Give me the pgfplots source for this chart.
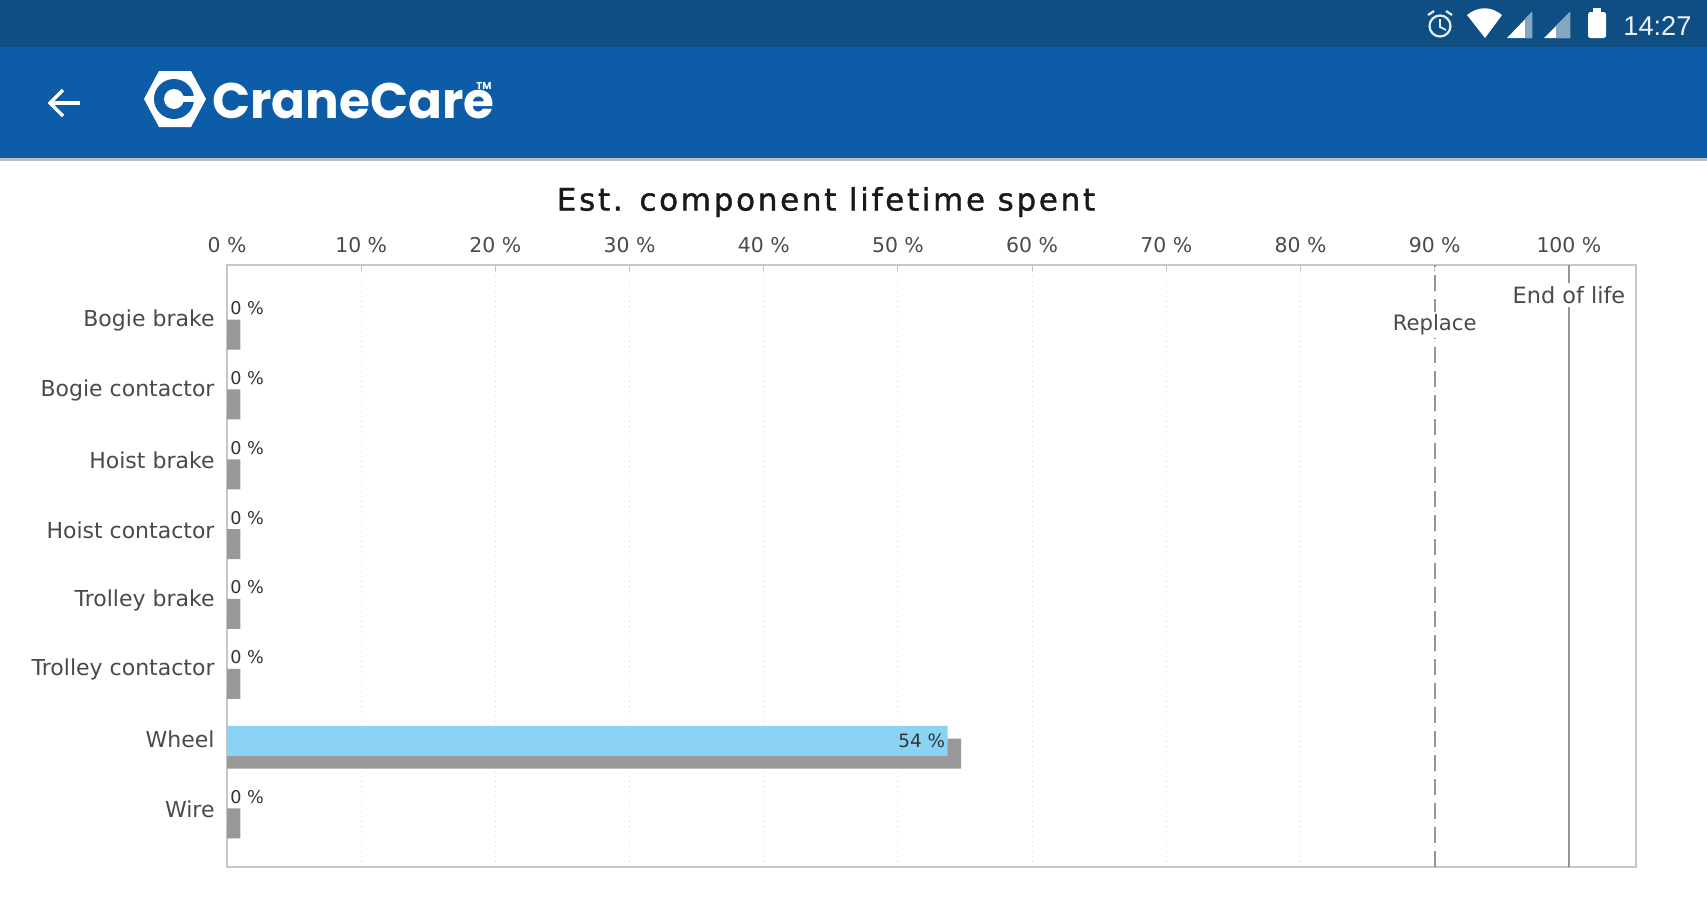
\documentclass[border=0pt]{standalone}
\usepackage{pgfplots}
\pgfplotsset{compat=1.18}
\usepackage{fontspec}
\setmainfont{DejaVu Sans}
\newfontfamily\titlefont[LetterSpace=8.7,FakeBold=1.2]{DejaVu Sans}
\newfontfamily\logofont{Poppins}
\newfontfamily\statusfont{Liberation Sans}
\definecolor{statusblue}{HTML}{0E4E82}
\definecolor{barblue}{HTML}{0D5CA8}
\definecolor{skyb}{HTML}{8BD3F5}
\definecolor{shadowg}{HTML}{999999}
\definecolor{txt}{HTML}{4A4A4A}
\begin{document}
\begin{tikzpicture}
\begin{scope}[x=0.5pt,y=-0.5pt]
\path[use as bounding box] (0,0) rectangle (1707,900);
\fill[white] (0,0) rectangle (1707,900);
\fill[black!25] (0,157) rectangle (1707,161);
\fill[barblue] (0,47) rectangle (1707,158);
\fill[statusblue] (0,0) rectangle (1707,47);
% back arrow
\draw[white,line width=1.6pt] (50,103) -- (80,103);
\draw[white,line width=1.6pt] (63,90) -- (50,103) -- (63,116);
% logo hexagon
\fill[white] (144,99) -- (159,71) -- (191,71) -- (206,99) -- (191,127) -- (159,127) -- cycle;
\fill[barblue] (174,99) circle (20);
\fill[white] (174,99) circle (10);
\fill[white] (174,96) rectangle (197,102);
\node[anchor=west,inner sep=0pt,text=white,font=\logofont\bfseries\fontsize{25}{25}\selectfont] at (212,101) {CraneCare};
\node[anchor=west,inner sep=0pt,text=white,font=\logofont\bfseries\fontsize{5}{5}\selectfont] at (476,86) {TM};
% status bar
\draw[white!90!statusblue,line width=1.1pt] (1440,26) circle (10.5);
\draw[white!90!statusblue,line width=0.9pt] (1440,19) -- (1440,27) -- (1446,30);
\draw[white!90!statusblue,line width=1.1pt] (1428,15) -- (1434,11) (1452,15) -- (1446,11);
\fill[white] (1467,15) .. controls (1478,6) and (1491,6) .. (1502,15) -- (1485,38) -- cycle;
\fill[white] (1507,38) -- (1532,12) -- (1532,38) -- cycle;
\fill[white!50!statusblue] (1525,38) -- (1525,19) -- (1532,12) -- (1532,38) -- cycle;
\fill[white] (1544,38) -- (1570,12) -- (1570,38) -- cycle;
\fill[white!50!statusblue] (1556,38) -- (1556,26) -- (1570,12) -- (1570,38) -- cycle;
\fill[white,rounded corners=1.2pt] (1588,12) rectangle (1606,38);
\fill[white] (1593,8) rectangle (1601,13);
\node[anchor=west,inner sep=0pt,text=white!92!statusblue,font=\statusfont\fontsize{13.6}{13.6}\selectfont] at (1623,26) {14:27};
% title
\node[inner sep=0pt,text=black!90,font=\titlefont\fontsize{15.5}{15.5}\selectfont] at (826,202) {Est. component lifetime spent};
\end{scope}
\begin{axis}[
  at={(113.5pt,-433.5pt)},anchor=south west,
  scale only axis,width=704.5pt,height=301pt,
  xmin=0,xmax=105,ymin=-0.83,ymax=7.79,
  axis line style={draw=black!22,line width=0.7pt},
  xtick={0,10,...,100},
  xticklabels={0 \%,10 \%,20 \%,30 \%,40 \%,50 \%,60 \%,70 \%,80 \%,90 \%,100 \%},
  xticklabel pos=upper,
  xtick pos=upper,
  tick style={draw=black!25,line width=0.5pt},
  major tick length=3pt,
  tick align=inside,
  xmajorgrids,
  grid style={draw=black!14,line width=0.5pt,dotted},
  ytick={0,...,7},
  yticklabels={Wire,Wheel,Trolley contactor,Trolley brake,Hoist contactor,Hoist brake,Bogie contactor,Bogie brake},
  ytick style={draw=none},
  xticklabel style={text=txt,font=\fontsize{10.2}{12}\selectfont,yshift=2.7pt},
  yticklabel style={text=txt,font=\fontsize{11}{12}\selectfont,xshift=-2.7pt,yshift=-0.2pt},
  clip=false,
]
\addplot[xbar,bar width=15pt,draw=none,fill=shadowg,bar shift=-7.2pt] coordinates {
 (1,7) (1,6) (1,5) (1,4) (1,3) (1,2) (54.7,1) (1,0)};
\addplot[xbar,bar width=15pt,draw=none,fill=skyb,bar shift=-0.8pt] coordinates {
 (0,7) (0,6) (0,5) (0,4) (0,3) (0,2) (53.7,1) (0,0)};
\addplot[draw=none,mark=none,nodes near coords,point meta=explicit symbolic,
  every node near coord/.style={anchor=west,inner sep=0pt,xshift=1.5pt,yshift=6pt,text=black!80,font=\fontsize{8.8}{10}\selectfont}]
 table[meta=label]{
x y label
0 7 {0 \%}
0 6 {0 \%}
0 5 {0 \%}
0 4 {0 \%}
0 3 {0 \%}
0 2 {0 \%}
0 0 {0 \%}
};
\addplot[draw=none,mark=none,nodes near coords,point meta=explicit symbolic,
  every node near coord/.style={anchor=east,inner sep=0pt,xshift=-1pt,yshift=-1pt,text=black!80,font=\fontsize{9.2}{10}\selectfont}]
 table[meta=label]{
x y label
53.7 1 {54 \%}
};
\addplot[mark=none,draw=black!42,line width=1.1pt,dash pattern=on 8pt off 4pt] coordinates {(90,-0.83) (90,7.79)};
\addplot[mark=none,draw=black!42,line width=1.1pt] coordinates {(100,-0.83) (100,7.79)};
\node[fill=white,inner sep=1.5pt,text=txt,font=\fontsize{10.6}{12}\selectfont] at (axis cs:90,6.93) {Replace};
\node[fill=white,inner sep=1.5pt,text=txt,font=\fontsize{11.2}{12}\selectfont] at (axis cs:100,7.36) {End of life};
\end{axis}
\end{tikzpicture}
\end{document}
